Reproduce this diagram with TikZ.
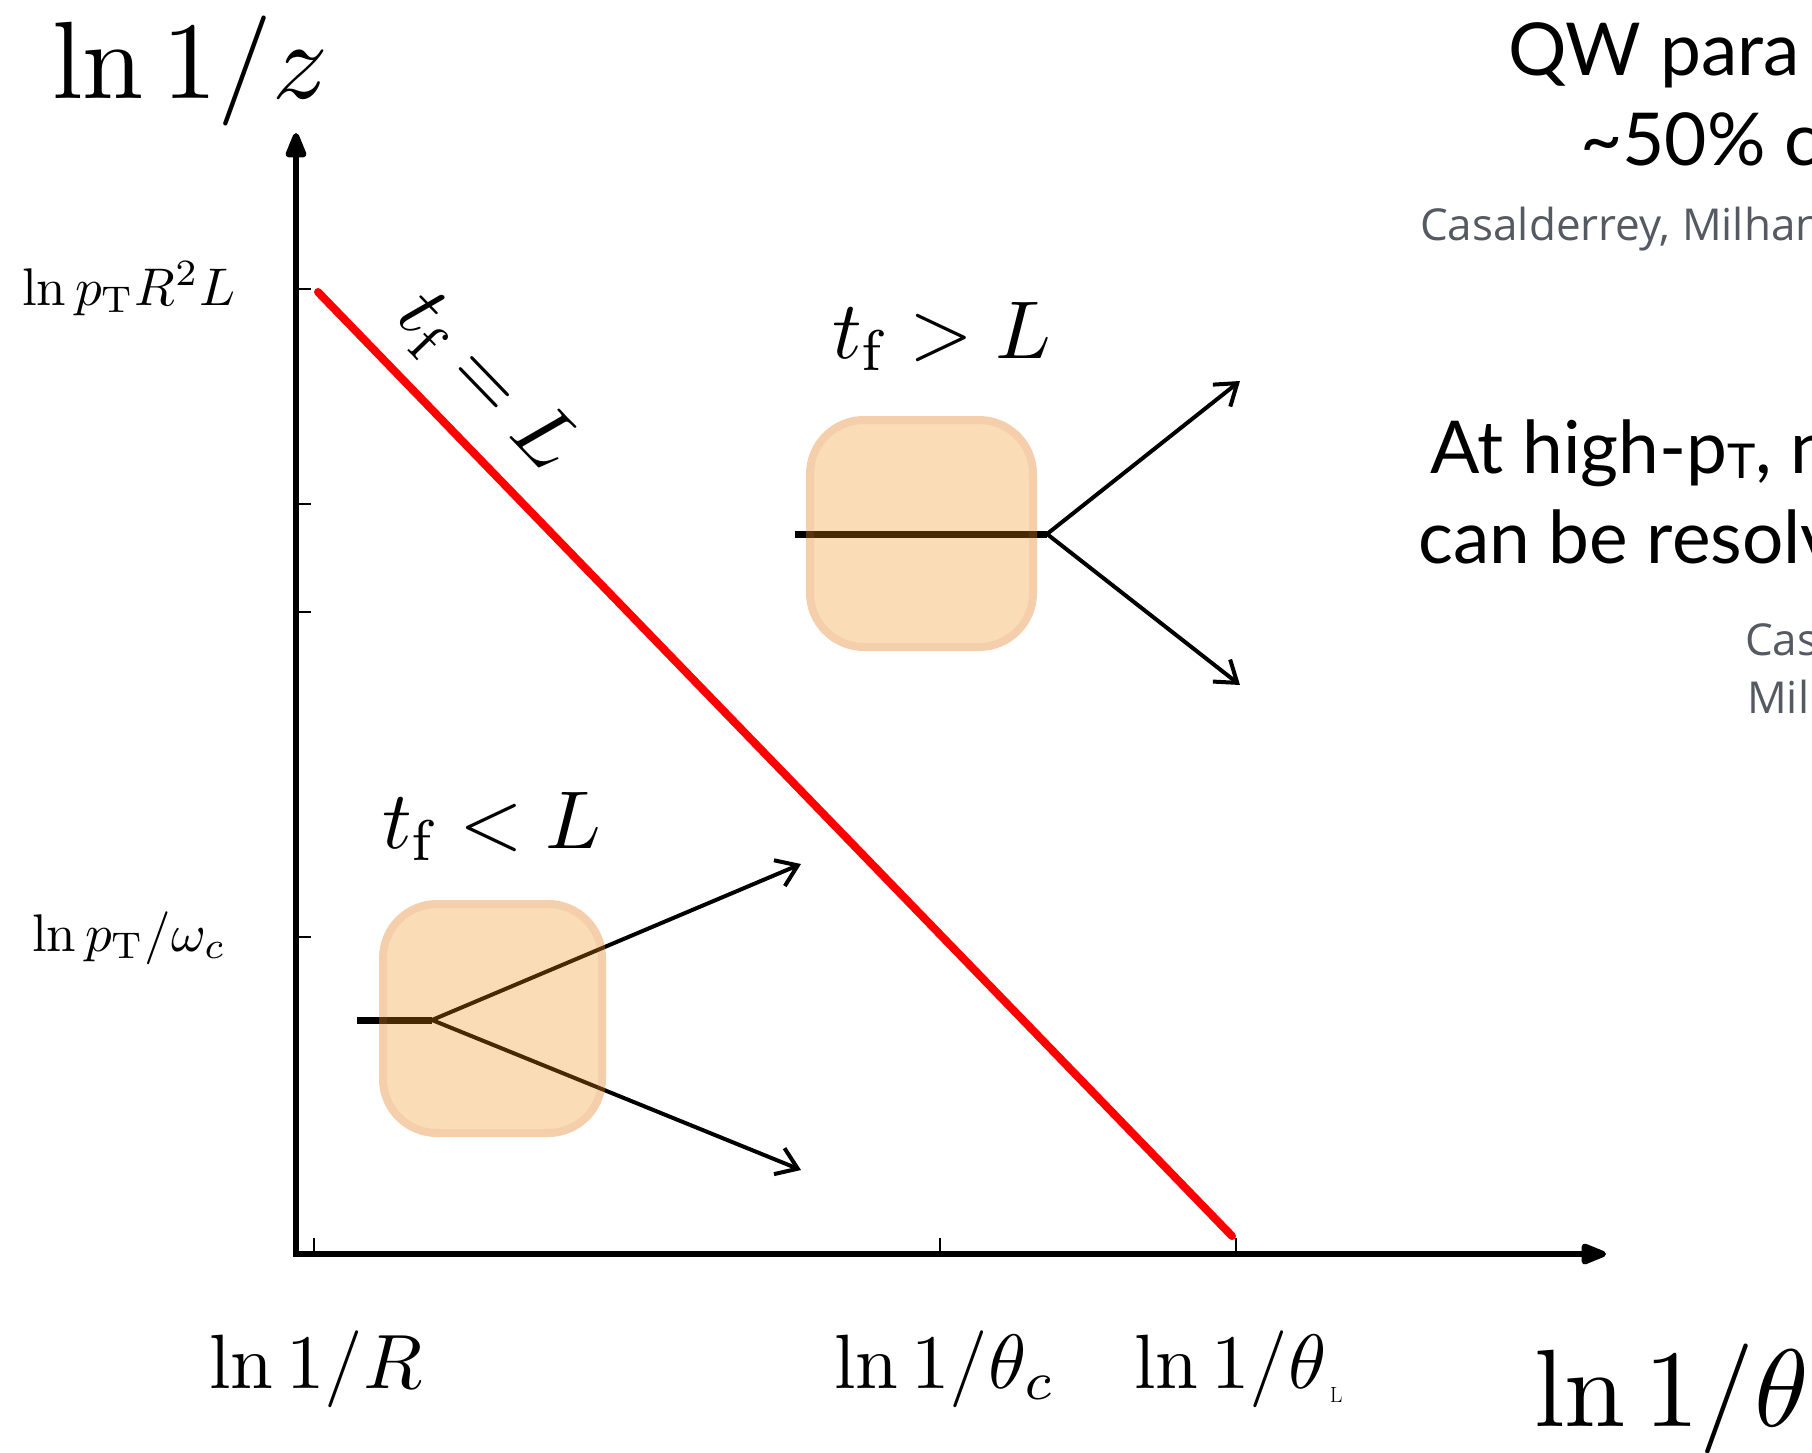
\documentclass[tikz,border=0pt]{standalone}
\usepackage{graphicx}
\usepackage{fontspec}
\newfontfamily\gillfont{Lato}
\newfontfamily\citefont{Open Sans}
\usetikzlibrary{arrows.meta}
\definecolor{blobfill}{RGB}{238,138,12}
\definecolor{blobedge}{RGB}{210,120,110}
\definecolor{citegray}{RGB}{85,90,98}
\definecolor{linered}{RGB}{255,0,0}
\tikzset{
  axisline/.style={line width=6pt, {Triangle[length=30pt,width=22pt,round]}-{Triangle[length=30pt,width=22pt,round]}},
  tickline/.style={line width=2pt},
  stem/.style={line width=7pt},
  branch/.style={line width=4pt, -{Straight Barb[length=20pt,width=28pt]}},
  blobfillst/.style={fill=blobfill, fill opacity=0.3, rounded corners=58pt},
  blobring/.style={draw=blobedge, draw opacity=0.12, line width=8pt, rounded corners=54pt},
  lbl/.style={anchor=base west, inner sep=0pt},
  slide/.style={lbl, font=\gillfont\fontsize{73}{73}\selectfont},
  cite/.style={lbl, text=citegray, font=\citefont\fontsize{44}{44}\selectfont},
}
\newcommand{\mysc}[2]{\scalebox{#1}{#2}}
\begin{document}
\begin{tikzpicture}[x=1pt,y=-1pt]
\useasboundingbox (0,0) rectangle (1812,1452);
\begin{scope}
\clip (0,0) rectangle (1812,1452);

% axes
\coordinate (O) at (296,1254);
\coordinate (Ytop) at (296,133);
\coordinate (Xend) at (1606,1254);
\draw[axisline] (Ytop) -- (O) -- (Xend);

% ticks
\foreach \yy in {289,504,612,937} \draw[tickline] (296,\yy) -- (311,\yy);
\foreach \xx in {314,940,1236} \draw[tickline] (\xx,1254) -- (\xx,1238);

% red line
\coordinate (r1) at (318,292);
\coordinate (r2) at (1232,1236);
\draw[linered, line width=8pt, line cap=round] (r1) -- (r2);

% lower splitting
\coordinate (s1) at (357,1020);
\coordinate (v1) at (432,1020);
\coordinate (a1) at (801,864);
\coordinate (b1) at (801,1170);
\draw[stem] (s1) -- (v1);
\draw[branch] (v1) -- (a1);
\draw[branch] (v1) -- (b1);
\path[blobfillst] (379,900) rectangle (606,1137);
\path[blobring] (383,904) rectangle (602,1133);

% upper splitting
\coordinate (s2) at (795,534);
\coordinate (v2) at (1047,534);
\coordinate (a2) at (1240,381);
\coordinate (b2) at (1240,685);
\draw[stem] (s2) -- (v2);
\draw[branch] (v2) -- (a2);
\draw[branch] (v2) -- (b2);
\path[blobfillst] (806,416) rectangle (1037,651);
\path[blobring] (810,420) rectangle (1033,647);

% axis labels
\node[lbl] (zlab) at (52,98) {\mysc{11}{$\ln 1/z$}};
\node[lbl] (thlab) at (1534,1426) {\mysc{11}{$\ln 1/\theta$}};
\node[lbl] (ylab1) at (22,305) {\mysc{5.3}{$\ln p_{\mathrm{T}}R^2L$}};
\node[lbl] (ylab2) at (32,951) {\mysc{5.3}{$\ln p_{\mathrm{T}}/\omega_c$}};
\node[lbl] (xlab1) at (209,1388) {\mysc{7.7}{$\ln 1/R$}};
\node[lbl] (xlab2) at (834,1388) {\mysc{7.7}{$\ln 1/\theta_c$}};
\node[lbl] (xlab3) at (1134,1388) {\mysc{7.7}{$\ln 1/\theta$}};
\node[lbl, font=\fontsize{22}{22}\selectfont] (xlab3sub) at ([xshift=3pt,yshift=-14pt]xlab3.base east) {L};

% region labels
\node[lbl] (tgt) at (832,358) {\mysc{8.2}{$t_{\mathrm{f}} > L$}};
\node[lbl] (tlt) at (382,848) {\mysc{8.2}{$t_{\mathrm{f}} < L$}};
\node[inner sep=0pt, rotate=-46] (teq) at (486,382) {\mysc{8.2}{$t_{\mathrm{f}} = L$}};

% slide text (cut at right edge)
\node[slide] (q1) at (1508,75) {QW para};
\node[slide] (q2) at (1580,165) {\char"007E 50\% c};
\node[cite] (c1) at (1420,240) {Casalderrey, Milhan};
\node[slide] (h1) at (1430,473) {At high-p\raisebox{-5pt}{\fontsize{48}{48}\selectfont T}, n};
\node[slide] (h2) at (1418,563) {can be resolv};
\node[cite] (c2) at (1745,655) {Cas};
\node[cite] (c3) at (1747,713) {Mill};
\end{scope}
\end{tikzpicture}
\end{document}
